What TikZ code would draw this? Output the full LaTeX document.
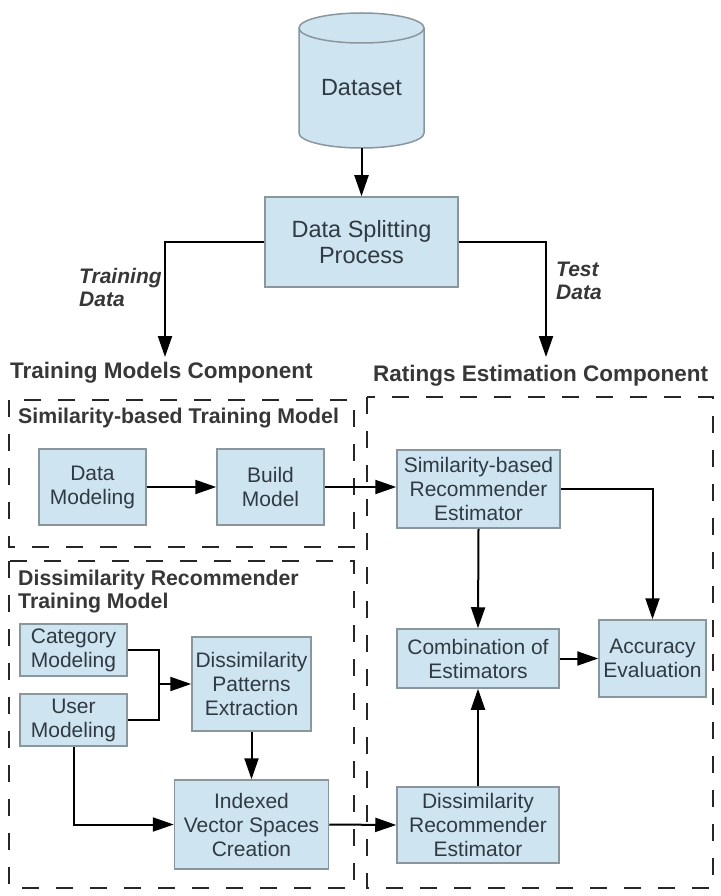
\documentclass[tikz,border=0pt]{standalone}
\usepackage{fontspec}
\setmainfont{Liberation Sans}
\usetikzlibrary{arrows.meta}
\definecolor{boxfill}{RGB}{207,228,241}
\definecolor{boxline}{RGB}{138,150,158}
\definecolor{txt}{RGB}{48,58,66}
\definecolor{ttl}{RGB}{55,55,55}
\begin{document}
\begin{tikzpicture}[x=1pt,y=-1pt,
  blk/.style={rectangle,draw=boxline,fill=boxfill,line width=1.5pt,text=txt,align=center,
    inner sep=0pt,font=\fontsize{21}{24}\selectfont},
  conn/.style={line width=2pt,black},
  arr/.style={conn,-{Triangle[length=21pt,width=14pt]}},
  grp/.style={dash pattern=on 17pt off 17pt,line width=2pt,black!85},
  ttlbig/.style={text=ttl,font=\fontsize{22.5}{26}\bfseries\selectfont,inner sep=0pt,anchor=west},
  ttlsub/.style={text=ttl,font=\fontsize{21.3}{23}\bfseries\selectfont,inner sep=0pt,anchor=west,align=left},
  elab/.style={text=ttl,font=\fontsize{21}{23.5}\bfseries\itshape\selectfont,inner sep=0pt,anchor=west,align=left}]
\useasboundingbox (0,0) rectangle (720,896);
\fill[white] (0,0) rectangle (720,896);

% cylinder
\fill[boxfill] (299,28) -- (299,133) arc[start angle=180,end angle=0,x radius=62.5,y radius=15]
  -- (424,28) arc[start angle=0,end angle=-180,x radius=62.5,y radius=15] -- cycle;
\draw[boxline,line width=1.5pt] (299,28) -- (299,133) arc[start angle=180,end angle=0,x radius=62.5,y radius=15] -- (424,28);
\draw[boxline,line width=1.5pt,fill=boxfill] (361.5,28) ellipse[x radius=62.5,y radius=15];
\node[inner sep=0pt,minimum width=125pt,minimum height=135pt] (ds) at (361.5,80.5) {};
\node[text=txt,font=\fontsize{23.5}{26}\selectfont,inner sep=0pt] (dstext) at (361.5,88) {Dataset};

% split
\node[blk,minimum width=193pt,minimum height=90pt,font=\fontsize{23.5}{26}\selectfont] (split) at (361.5,242) {Data Splitting\\Process};
\draw[arr] (ds.south) -- (split.north);
\coordinate (tm) at (165,357);
\coordinate (re) at (546,357);
\draw[arr] (split.west) -| (tm);
\draw[arr] (split.east) -| (re);
\node[elab] (trdata) at (79,287.5) {Training\\Data};
\node[elab] (tsdata) at (556,281) {Test\\Data};

% titles
\node[ttlbig] (tmc) at (10,373) {Training Models Component};
\node[ttlbig] (rec) at (373,376) {Ratings Estimation Component};

% group boxes
\draw[grp] (9,400) rectangle (354,547);
\draw[grp] (9,561) rectangle (354,888);
\draw[grp] (367,397) rectangle (713,888);
\node[ttlsub] (simt) at (18,418) {Similarity-based Training Model};
\node[ttlsub] (dist) at (18,591.5) {Dissimilarity Recommender\\Training Model};

% blocks
\node[blk,minimum width=107pt,minimum height=76pt] (dm) at (92.5,487) {Data\\Modeling};
\node[blk,minimum width=107pt,minimum height=76pt] (bm) at (270.5,487) {Build\\Model};
\node[blk,minimum width=163pt,minimum height=78pt] (sre) at (478.5,489) {Similarity-based\\Recommender\\Estimator};
\node[blk,minimum width=162pt,minimum height=59pt] (comb) at (478,658.5) {Combination of\\Estimators};
\node[blk,minimum width=107pt,minimum height=77pt] (acc) at (652.5,658.5) {Accuracy\\Evaluation};
\node[blk,minimum width=162pt,minimum height=76pt] (dre) at (478,825) {Dissimilarity\\Recommender\\Estimator};
\node[blk,minimum width=107pt,minimum height=52pt] (cat) at (73.5,650) {Category\\Modeling};
\node[blk,minimum width=107pt,minimum height=52pt] (user) at (73.5,720) {User\\Modeling};
\node[blk,minimum width=119pt,minimum height=94pt] (dpe) at (251.5,684) {Dissimilarity\\Patterns\\Extraction};
\node[blk,minimum width=154pt,minimum height=89pt] (ivsc) at (251.5,824.5) {Indexed\\Vector Spaces\\Creation};

% connectors
\draw[arr] (dm.east) -- (bm.west);
\draw[arr] (bm.east) -- (bm.east -| sre.west);
\draw[arr] (sre.east) -| (acc.north);
\draw[arr] (sre.south) -- (comb.north);
\draw[arr] (comb.east) -- (acc.west);
\draw[arr] (dre.north) -- (comb.south);
\coordinate (j) at (159,684);
\draw[conn] (cat.east) -| (j) |- (user.east);
\draw[arr] (j) -- (dpe.west);
\draw[arr] (dpe.south) -- (ivsc.north);
\draw[arr] (user.south) |- (ivsc.west);
\draw[arr] (ivsc.east) -- (dre.west);
\end{tikzpicture}
\end{document}
